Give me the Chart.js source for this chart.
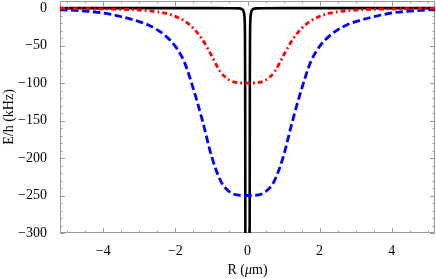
<!DOCTYPE html>
<html>
<head>
<meta charset="utf-8">
<script src="https://cdn.jsdelivr.net/npm/chart.js@4.4.0/dist/chart.umd.min.js"></script>
<style>
  html, body { margin: 0; padding: 0; background: #fff; }
  canvas { display: block; }
</style>
</head>
<body>
<canvas id="grafica" width="436" height="279"></canvas>
<script>
// Datos (R en micras, E/h en kHz)
const rAncho = [-5.2, -5, -4.5, -4, -3.5, -3, -2.75, -2.5, -2.25, -2, -1.75, -1.5, -1.25, -1, -0.75, -0.5, -0.25,
                0, 0.25, 0.5, 0.75, 1, 1.25, 1.5, 1.75, 2, 2.25, 2.5, 2.75, 3, 3.5, 4, 4.5, 5, 5.2];
const energiaAzul = [-2.2, -2.5, -4, -6.5, -11.5, -18, -22.5, -29, -38, -51, -72, -108, -150, -197, -230, -245, -249.5,
                     -250, -249.5, -245, -230, -197, -150, -108, -72, -51, -38, -29, -22.5, -18, -11.5, -6.5, -4, -2.5, -2.2];
const energiaRoja = [-0.4, -0.5, -0.7, -1, -1.5, -2.5, -3.5, -5, -7, -11, -17, -27, -42, -63, -85, -96, -99.5,
                     -100, -99.5, -96, -85, -63, -42, -27, -17, -11, -7, -5, -3.5, -2.5, -1.5, -1, -0.7, -0.5, -0.4];
const rEstrecho = [-5.2, -1, -0.4, -0.26, -0.2, -0.15, -0.12, -0.1, -0.09, -0.08, -0.07, -0.065, -0.06, -0.057,
                   0.057, 0.06, 0.065, 0.07, 0.08, 0.09, 0.1, 0.12, 0.15, 0.2, 0.26, 0.4, 1, 5.2];
const energiaNegra = [0, 0, -0.1, -0.3, -0.6, -1.5, -3, -6, -9, -15, -40, -100, -300, -450,
                      -450, -300, -100, -40, -15, -9, -6, -3, -1.5, -0.6, -0.3, -0.1, 0, 0];
const ticksX = [-4, -2, 0, 2, 4];
const ticksY = [-300, -250, -200, -150, -100, -50, 0];

const FUENTE = '"Liberation Serif", "DejaVu Serif", serif';
const GRIS = '#9a9a9a';

function puntos(xs, ys) {
    return xs.map((x, i) => ({ x: x, y: ys[i] }));
}

function etiqueta(v) {
    return v < 0 ? '\u2212' + Math.abs(v) : String(v);
}

// Marco estilo Mathematica con marcas hacia dentro en los cuatro lados
const marcoPlugin = {
    id: 'marco',
    beforeDatasetsDraw(chart) {
        const { ctx, chartArea: a, scales } = chart;
        const sx = scales.x, sy = scales.y;
        ctx.save();
        ctx.strokeStyle = GRIS;
        ctx.lineWidth = 1;
        ctx.strokeRect(a.left + 0.5, a.top + 0.5, a.right - a.left - 1, a.bottom - a.top - 1);

        for (let k = -10; k <= 10; k++) {
            const v = k * 0.5;
            const px = Math.round(sx.getPixelForValue(v)) + 0.5;
            if (px < a.left || px > a.right) continue;
            const largo = (k % 4 === 0) ? 5 : 2.5;
            ctx.beginPath();
            ctx.moveTo(px, a.bottom); ctx.lineTo(px, a.bottom - largo);
            ctx.moveTo(px, a.top); ctx.lineTo(px, a.top + largo);
            ctx.stroke();
        }
        for (let v = -300; v <= 0; v += 10) {
            const py = Math.round(sy.getPixelForValue(v)) + 0.5;
            const largo = (v % 50 === 0) ? 5 : 2.5;
            ctx.beginPath();
            ctx.moveTo(a.left, py); ctx.lineTo(a.left + largo, py);
            ctx.moveTo(a.right, py); ctx.lineTo(a.right - largo, py);
            ctx.stroke();
        }
        ctx.restore();
    },
    afterDraw(chart) {
        const { ctx, chartArea: a } = chart;
        ctx.save();
        ctx.fillStyle = '#000';
        ctx.textBaseline = 'middle';

        // Título eje X: "R (μm)" con μ en cursiva
        const partes = [['R (', 'normal'], ['\u03bc', 'italic'], ['m)', 'normal']];
        let ancho = 0;
        partes.forEach(p => { ctx.font = p[1] + ' 14px ' + FUENTE; ancho += ctx.measureText(p[0]).width; });
        let x = (a.left + a.right) / 2 - ancho / 2;
        partes.forEach(p => {
            ctx.font = p[1] + ' 14px ' + FUENTE;
            ctx.fillText(p[0], x, 270);
            x += ctx.measureText(p[0]).width;
        });

        // Título eje Y
        ctx.translate(9, (a.top + a.bottom) / 2);
        ctx.rotate(-Math.PI / 2);
        ctx.textAlign = 'center';
        ctx.font = '14px ' + FUENTE;
        ctx.fillText('E/h (kHz)', 0, 0);
        ctx.restore();
    }
};

const ctx = document.getElementById('grafica').getContext('2d');
new Chart(ctx, {
    type: 'scatter',
    data: {
        datasets: [
            {
                label: 'negra',
                data: puntos(rEstrecho, energiaNegra),
                borderColor: '#000',
                borderWidth: 2.6,
                showLine: true,
                pointRadius: 0,
                cubicInterpolationMode: 'monotone',
                order: 3
            },
            {
                label: 'azul',
                data: puntos(rAncho, energiaAzul),
                borderColor: '#0000ff',
                borderWidth: 2.8,
                borderDash: [7.5, 3.5],
                showLine: true,
                pointRadius: 0,
                cubicInterpolationMode: 'monotone',
                order: 2
            },
            {
                label: 'roja',
                data: puntos(rAncho, energiaRoja),
                borderColor: '#ff0000',
                borderWidth: 2.8,
                borderDash: [5, 3, 1.8, 3],
                showLine: true,
                pointRadius: 0,
                cubicInterpolationMode: 'monotone',
                order: 1
            }
        ]
    },
    options: {
        responsive: false,
        animation: false,
        layout: { padding: { top: 1, right: 1, left: 0, bottom: 0 } },
        plugins: {
            legend: { display: false },
            tooltip: { enabled: false }
        },
        scales: {
            x: {
                type: 'linear',
                min: -5.2,
                max: 5.2,
                grid: { display: false },
                border: { display: false },
                afterBuildTicks: s => { s.ticks = ticksX.map(v => ({ value: v })); },
                afterFit: s => { s.height = 46; s.paddingLeft = 0; s.paddingRight = 0; },
                ticks: {
                    padding: 2,
                    color: '#000',
                    font: { family: FUENTE, size: 14 },
                    maxRotation: 0,
                    callback: v => etiqueta(v)
                }
            },
            y: {
                type: 'linear',
                min: -300,
                max: 9.5,
                grid: { display: false },
                border: { display: false },
                afterBuildTicks: s => { s.ticks = ticksY.map(v => ({ value: v })); },
                afterFit: s => { s.width = 60; s.paddingTop = 0; s.paddingBottom = 0; },
                ticks: {
                    padding: 5,
                    color: '#000',
                    font: { family: FUENTE, size: 14 },
                    callback: v => etiqueta(v)
                }
            }
        }
    },
    plugins: [marcoPlugin]
});
</script>
</body>
</html>
